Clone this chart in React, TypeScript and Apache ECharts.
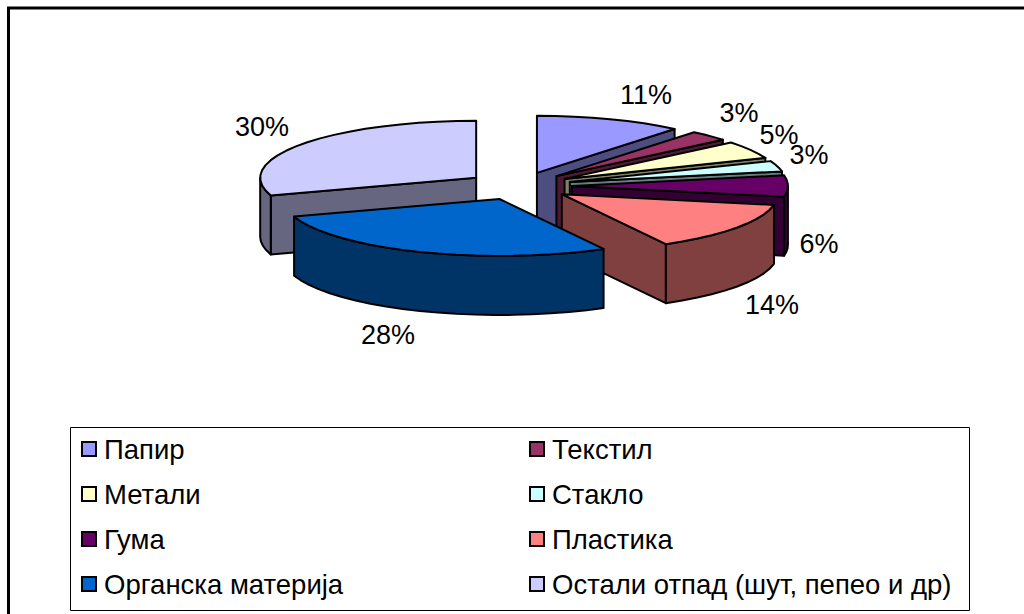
import React, { useEffect, useRef } from "react";
import * as echarts from "echarts";

const categories = ["Папир", "Текстил", "Метали", "Стакло", "Гума", "Пластика", "Органска материја", "Остали отпад (шут, пепео и др)"];
const values = [11, 3, 5, 3, 6, 14, 28, 30];
const topColors = ["#9999FF", "#993366", "#FFFFCC", "#CCFFFF", "#660066", "#FF8080", "#0066CC", "#CCCCFF"];
const sideColors = ["#4D4D80", "#4D1A33", "#808066", "#668080", "#330033", "#804040", "#003366", "#666680"];

// Layout of the drawing (not data)
const labelCentres = [[646, 95], [739, 113], [779, 135], [809, 155], [819, 244], [772, 305], [388, 335], [262, 127]];
const CX = 519, CY = 186, RX = 216, RY = 57, DEPTH = 59, EXPLODE = 0.245;
const FONT = "'Liberation Sans', Arial, sans-serif";
const LABEL_SIZE = 27;
const LEGEND_SIZE = 27.5;
const STROKE = { stroke: "#000", lineWidth: 2, lineJoin: "round" as const };

const total = values.reduce((a, b) => a + b, 0);

function sliceRenderer(index: number) {
  return (_params: any, api: any) => {
    const before = values.slice(0, index).reduce((a, b) => a + b, 0);
    const value = api.value(0);
    const a0 = (before / total) * Math.PI * 2;
    const a1 = ((before + value) / total) * Math.PI * 2;
    const mid = (a0 + a1) / 2;
    const ax = CX + EXPLODE * RX * Math.sin(mid);
    const ay = CY - EXPLODE * RY * Math.cos(mid);
    const rim = (t: number, d = 0): number[] => [ax + RX * Math.sin(t), ay - RY * Math.cos(t) + d];
    const arc = (s: number, e: number, d = 0) => {
      const n = Math.max(2, Math.ceil((e - s) / 0.09));
      const pts: number[][] = [];
      for (let i = 0; i <= n; i++) pts.push(rim(s + ((e - s) * i) / n, d));
      return pts;
    };
    const z2 = Math.round(-Math.cos(mid) * 100);
    const poly = (points: number[][], fill: string, z: number) => ({
      type: "polygon",
      shape: { points },
      style: { fill, ...STROKE },
      z2: z2 * 10 + z,
      silent: true,
    });
    const children: any[] = [];
    const side = sideColors[index];
    const face = (t: number) => poly([[ax, ay], rim(t), rim(t, DEPTH), [ax, ay + DEPTH]], side, 0);
    if (Math.sin(a0) < -1e-6) children.push(face(a0));
    if (Math.sin(a1) > 1e-6) children.push(face(a1));
    const w0 = Math.max(a0, Math.PI / 2);
    const w1 = Math.min(a1, (Math.PI * 3) / 2);
    if (w1 > w0) {
      const top = arc(w0, w1);
      const bottom = arc(w0, w1, DEPTH).reverse();
      children.push(poly([...top, ...bottom], side, 1));
    }
    children.push(poly([[ax, ay], ...arc(a0, a1)], topColors[index], 2));
    const [lx, ly] = labelCentres[index];
    children.push({
      type: "text",
      x: lx,
      y: ly,
      z2: 5000,
      silent: true,
      style: {
        text: `${value}%`,
        fill: "#000",
        font: `${LABEL_SIZE}px ${FONT}`,
        align: "center",
        verticalAlign: "middle",
      },
    });
    return { type: "group", children };
  };
}

export default function App() {
  const ref = useRef<HTMLDivElement>(null);
  useEffect(() => {
    const chart = echarts.init(ref.current!, undefined, { renderer: "svg" });
    const legendBase = {
      orient: "vertical" as const,
      selectedMode: false,
      icon: "rect",
      itemWidth: 14,
      itemHeight: 14,
      itemGap: 15,
      padding: 0,
      itemStyle: { borderColor: "#000", borderWidth: 2 },
      textStyle: { fontFamily: FONT, fontSize: LEGEND_SIZE, color: "#000", padding: [0, 0, 0, 3], lineHeight: 30 },
    };
    chart.setOption({
      animation: false,
      color: topColors,
      legend: [
        { ...legendBase, left: 81, top: 434, data: categories.filter((_, i) => i % 2 === 0) },
        { ...legendBase, left: 529, top: 434, data: categories.filter((_, i) => i % 2 === 1) },
      ],
      graphic: [
        { type: "rect", shape: { x: 8.5, y: 8, width: 1030, height: 640 }, style: { fill: "#fff", stroke: "#000", lineWidth: 3 }, z: -2, silent: true },
        { type: "rect", shape: { x: 70.5, y: 427.5, width: 899, height: 183 }, style: { fill: "#fff", stroke: "#000", lineWidth: 1 }, z: -1, silent: true },
      ],
      series: categories.map((name, i) => ({
        type: "custom",
        name,
        coordinateSystem: "none",
        itemStyle: { color: topColors[i] },
        renderItem: sliceRenderer(i),
        data: [[values[i]]],
        encode: { value: 0 },
      })),
    });
    return () => chart.dispose();
  }, []);
  return <div ref={ref} style={{ position: "fixed", left: 0, top: 0, width: 1024, height: 614, background: "#fff" }} />;
}
